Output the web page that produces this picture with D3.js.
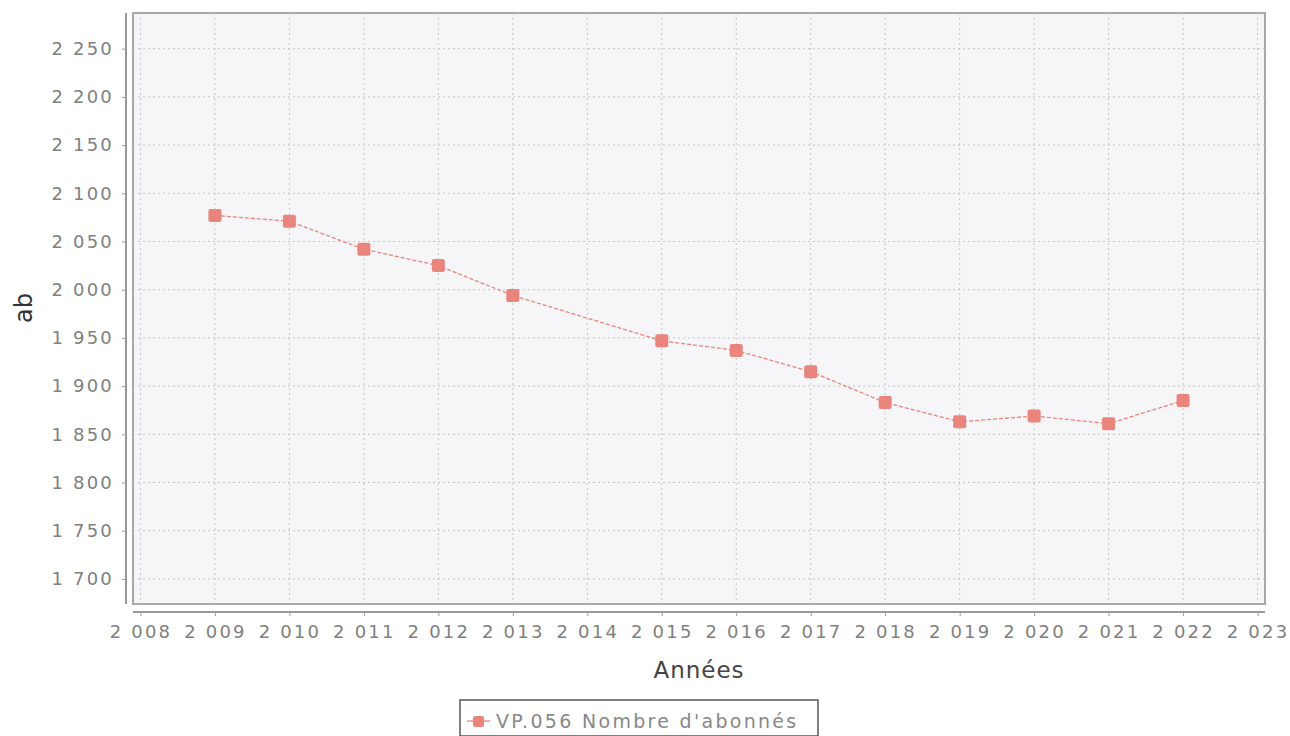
<!DOCTYPE html>
<html>
<head>
<meta charset="utf-8">
<script src="https://cdn.jsdelivr.net/npm/d3@7"></script>
<style>
  body { margin: 0; background: #fff; }
  text { font-family: "DejaVu Sans", sans-serif; }
</style>
</head>
<body>
<div id="chart"></div>
<script>
const years = [2009, 2010, 2011, 2012, 2013, 2015, 2016, 2017, 2018, 2019, 2020, 2021, 2022];
const subscribers = [2077, 2071, 2042, 2025, 1994, 1947, 1937, 1915, 1883, 1863, 1869, 1861, 1885];
const yTicks = [1700, 1750, 1800, 1850, 1900, 1950, 2000, 2050, 2100, 2150, 2200, 2250];
const xTicks = d3.range(2008, 2024);
const seriesName = "VP.056 Nombre d'abonnés";

const width = 1290, height = 736;
const plot = { left: 133, right: 1265, top: 13, bottom: 604 };
const color = "#e9857d";

const fmt = (v) => d3.format(",")(v).replace(",", " ");

const svg = d3.select("#chart").append("svg")
  .attr("width", width)
  .attr("height", height);

const x = d3.scaleLinear().domain([2007.9, 2023.1]).range([plot.left, plot.right]);
const y = d3.scaleLinear().domain([1674, 2287]).range([plot.bottom, plot.top]);

// plot background + border
svg.append("rect")
  .attr("x", plot.left).attr("y", plot.top)
  .attr("width", plot.right - plot.left).attr("height", plot.bottom - plot.top)
  .attr("fill", "#f6f6f8")
  .attr("stroke", "#a8a8a8")
  .attr("stroke-width", 2);

// grid
svg.append("g")
  .selectAll("line")
  .data(yTicks)
  .enter()
  .append("line")
  .attr("x1", plot.left).attr("x2", plot.right)
  .attr("y1", (d) => y(d)).attr("y2", (d) => y(d))
  .attr("stroke", "#c4c4c8")
  .attr("stroke-dasharray", "2,3");

svg.append("g")
  .selectAll("line")
  .data(xTicks)
  .enter()
  .append("line")
  .attr("y1", plot.top).attr("y2", plot.bottom)
  .attr("x1", (d) => x(d)).attr("x2", (d) => x(d))
  .attr("stroke", "#c4c4c8")
  .attr("stroke-dasharray", "2,3");

// y axis (offset from plot)
const yAxis = svg.append("g")
  .attr("transform", "translate(126,0)")
  .call(d3.axisLeft(y).tickValues(yTicks).tickFormat(fmt).tickSize(4).tickPadding(8));
yAxis.select(".domain").attr("stroke", "#999").attr("stroke-width", 2)
  .attr("d", `M0,${plot.top}V${plot.bottom}`);
yAxis.selectAll(".tick line").attr("stroke", "#999");
yAxis.selectAll(".tick text")
  .attr("fill", "#808080")
  .attr("font-size", 18)
  .attr("letter-spacing", 2.2);

// x axis (offset from plot)
const xAxis = svg.append("g")
  .attr("transform", "translate(0,612)")
  .call(d3.axisBottom(x).tickValues(xTicks).tickFormat(fmt).tickSize(4).tickPadding(9));
xAxis.select(".domain").attr("stroke", "#999").attr("stroke-width", 2)
  .attr("d", `M${plot.left},0H${plot.right}`);
xAxis.selectAll(".tick line").attr("stroke", "#999");
xAxis.selectAll(".tick text")
  .attr("fill", "#808080")
  .attr("font-size", 18)
  .attr("letter-spacing", 2.2);

// axis titles
svg.append("text")
  .attr("transform", "translate(32,308) rotate(-90)")
  .attr("text-anchor", "middle")
  .attr("font-family", "DejaVu Serif, serif")
  .attr("font-size", 24)
  .attr("fill", "#333")
  .text("ab");

svg.append("text")
  .attr("x", 699).attr("y", 678)
  .attr("text-anchor", "middle")
  .attr("font-size", 23)
  .attr("letter-spacing", 1)
  .attr("fill", "#444")
  .text("Années");

// series
const points = years.map((yr, i) => ({ year: yr, value: subscribers[i] }));
const line = d3.line().x((d) => x(d.year)).y((d) => y(d.value));

svg.append("path")
  .datum(points)
  .attr("d", line)
  .attr("fill", "none")
  .attr("stroke", color)
  .attr("stroke-width", 1.3)
  .attr("stroke-dasharray", "4,2");

svg.append("g")
  .selectAll("rect")
  .data(points)
  .enter()
  .append("rect")
  .attr("x", (d) => x(d.year) - 6.5)
  .attr("y", (d) => y(d.value) - 6.5)
  .attr("width", 13).attr("height", 13)
  .attr("rx", 2)
  .attr("fill", color);

// legend
const legend = svg.append("g").attr("transform", "translate(460,700)");
legend.append("rect")
  .attr("width", 358).attr("height", 36)
  .attr("fill", "#fff")
  .attr("stroke", "#555")
  .attr("stroke-width", 1.5);
legend.append("line")
  .attr("x1", 7).attr("x2", 30).attr("y1", 21).attr("y2", 21)
  .attr("stroke", color).attr("stroke-width", 1.3);
legend.append("rect")
  .attr("x", 13).attr("y", 16).attr("width", 11).attr("height", 11)
  .attr("rx", 2).attr("fill", color);
legend.append("text")
  .attr("x", 36).attr("y", 28)
  .attr("font-size", 19)
  .attr("fill", "#888")
  .attr("letter-spacing", 2.3)
  .text(seriesName);
</script>
</body>
</html>
